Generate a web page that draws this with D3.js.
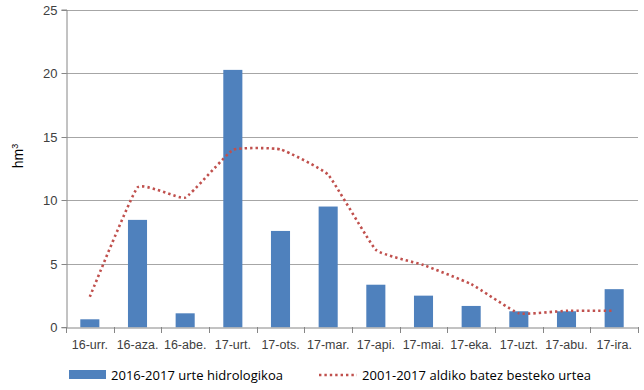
<!DOCTYPE html>
<html><head><meta charset="utf-8">
<script src="https://cdn.jsdelivr.net/npm/d3@7"></script>
<style>body{margin:0;background:#fff}svg{display:block;font-family:"Liberation Sans",Arial,sans-serif}</style>
</head><body>
<svg id="c" width="644" height="390"></svg>
<script>
const categories = ["16-urr.","16-aza.","16-abe.","17-urt.","17-ots.","17-mar.","17-api.","17-mai.","17-eka.","17-uzt.","17-abu.","17-ira."];
const hydroYear = [0.63,8.45,1.1,20.25,7.58,9.5,3.35,2.49,1.68,1.26,1.26,3.0];
const avgYear = [2.4,11.0,10.2,13.95,14.0,12.0,6.1,4.9,3.4,1.1,1.3,1.3];
const yTicks = [0,5,10,15,20,25];
const seriesNames = ["2016-2017 urte hidrologikoa","2001-2017 aldiko batez besteko urtea"];

const svg = d3.select("#c");
const m = {l:66, r:638, t:9.5, b:327.3};
const x = d3.scaleBand().domain(categories).range([m.l, m.r]).paddingInner(0.6).paddingOuter(0.3);
const xc = d3.scaleBand().domain(categories).range([m.l, m.r]);
const y = d3.scaleLinear().domain([0,25]).range([m.b, m.t]);
const FONT = "'Liberation Sans',Arial,sans-serif";

// gridlines
svg.append("g").selectAll("line").data(yTicks.filter(d=>d>0)).join("line")
  .attr("x1", m.l).attr("x2", m.r).attr("y1", d=>Math.round(y(d))+0.5).attr("y2", d=>Math.round(y(d))+0.5)
  .attr("stroke", "#a6a6a6").attr("stroke-width", 1);

// y axis
const ya = svg.append("g").attr("transform", `translate(${m.l+0.5},0)`)
  .call(d3.axisLeft(y).tickValues(yTicks).tickSize(5).tickPadding(4));
ya.attr("font-family", FONT);
ya.select(".domain").attr("stroke", "#868686");
ya.selectAll(".tick line").attr("stroke", "#868686");
ya.selectAll("text").attr("font-size", 13).attr("fill", "#404040");
ya.selectAll(".tick").attr("transform", d=>`translate(0,${Math.round(y(d))+0.5})`);

// bars
svg.append("g").selectAll("rect").data(hydroYear).join("rect")
  .attr("x", (d,i)=>x(categories[i])).attr("width", x.bandwidth())
  .attr("y", d=>y(d)).attr("height", d=>y(0)-y(d))
  .attr("fill", "#4f81bd");

// x axis
const xa = svg.append("g").attr("transform", `translate(0,${Math.round(y(0))+0.5})`)
  .call(d3.axisBottom(xc).tickSize(0).tickPadding(13));
xa.attr("font-family", FONT);
xa.select(".domain").attr("stroke", "#868686");
xa.selectAll("text").attr("font-size", 12.5).attr("fill", "#404040");
svg.append("g").selectAll("line").data(d3.range(categories.length+1)).join("line")
  .attr("x1", i=>Math.round(m.l + i*xc.step())+0.5).attr("x2", i=>Math.round(m.l + i*xc.step())+0.5)
  .attr("y1", Math.round(y(0))).attr("y2", Math.round(y(0))+6)
  .attr("stroke", "#868686");

// line
const line = d3.line().x((d,i)=>xc(categories[i])+xc.bandwidth()/2).y(d=>y(d)).curve(d3.curveCardinal.tension(0.65));
svg.append("path").datum(avgYear).attr("d", line)
  .attr("fill","none").attr("stroke","#c0504d").attr("stroke-width",2.6)
  .attr("stroke-dasharray","2.4,3").attr("stroke-linecap","butt");

// y label
svg.append("text").attr("transform","translate(23,156) rotate(-90)").attr("text-anchor","middle")
  .attr("font-size",14).attr("fill","#000").html('hm<tspan dy="-5" font-size="9">3</tspan>');

// legend
const lg = svg.append("g");
lg.append("rect").attr("x",69).attr("y",370).attr("width",37).attr("height",9).attr("fill","#4f81bd");
lg.append("text").attr("x",111).attr("y",379.5).attr("font-size",13).attr("fill","#000").attr("font-family","'Open Sans',sans-serif").attr("textLength",172).text(seriesNames[0]);
lg.append("line").attr("x1",319).attr("x2",357).attr("y1",375).attr("y2",375)
  .attr("stroke","#c0504d").attr("stroke-width",2.6).attr("stroke-dasharray","2.4,3");
lg.append("text").attr("x",362).attr("y",379.5).attr("font-size",13).attr("fill","#000").attr("font-family","'Open Sans',sans-serif").attr("textLength",229).text(seriesNames[1]);
</script>
</body></html>
